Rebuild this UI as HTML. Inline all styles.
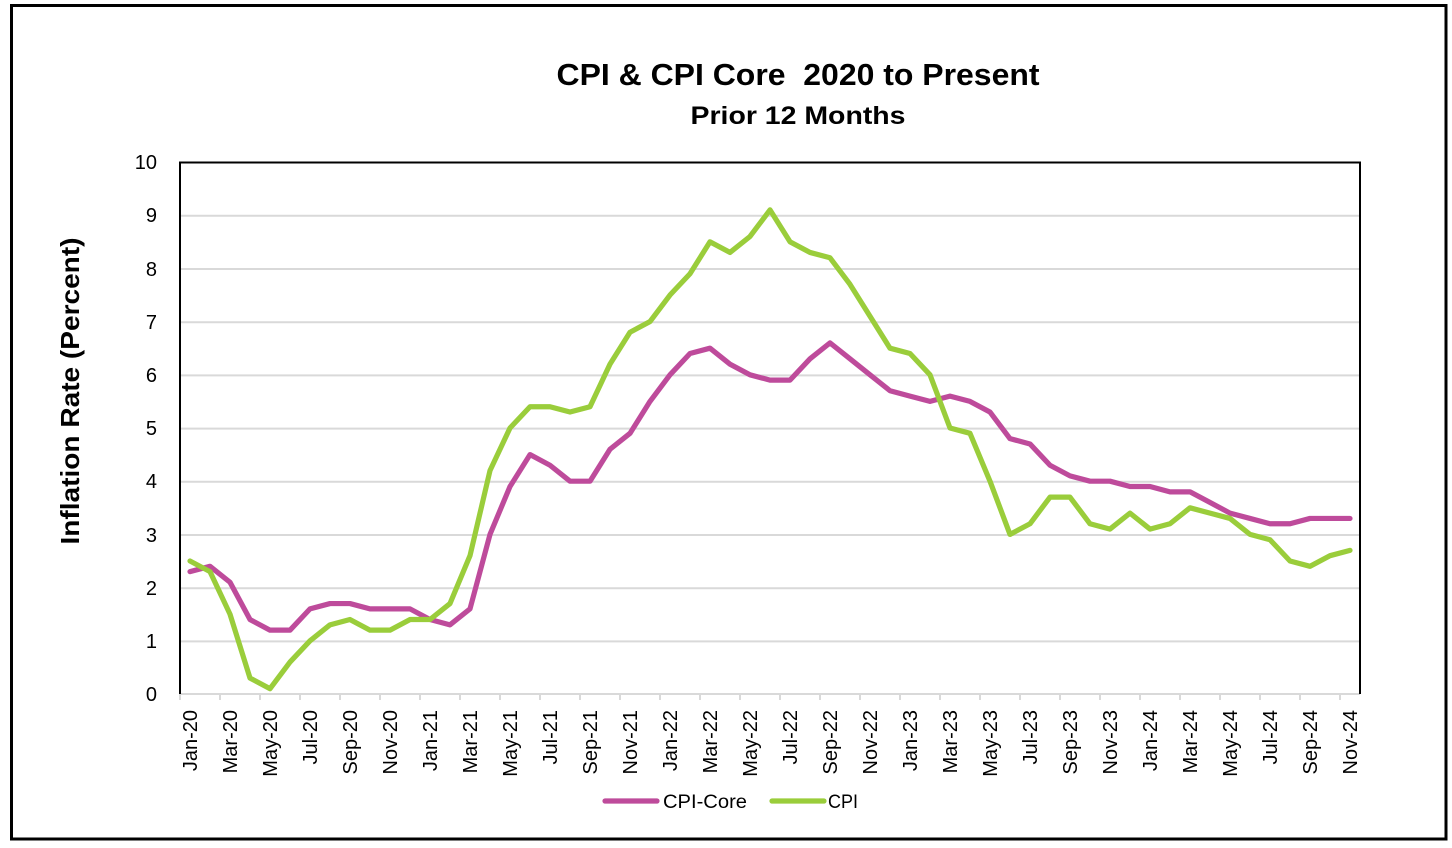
<!DOCTYPE html>
<html>
<head>
<meta charset="utf-8">
<style>
html,body{margin:0;padding:0;background:#fff;}
svg{display:block;}
text{font-family:"Liberation Sans",Arial,sans-serif;fill:#000;}
</style>
</head>
<body>
<svg width="1452" height="848" viewBox="0 0 1452 848" xmlns="http://www.w3.org/2000/svg">
<rect x="0" y="0" width="1452" height="848" fill="#fff"/>
<rect x="11.5" y="5.5" width="1434.5" height="833.5" fill="none" stroke="#000" stroke-width="3"/>

<!-- Titles -->
<text x="798" y="85" font-size="31" font-weight="bold" text-anchor="middle" textLength="483" lengthAdjust="spacingAndGlyphs">CPI &amp; CPI Core&#160; 2020 to Present</text>
<text x="798" y="124" font-size="25" font-weight="bold" text-anchor="middle" textLength="215" lengthAdjust="spacingAndGlyphs">Prior 12 Months</text>

<!-- Y axis title -->
<text transform="translate(79,391) rotate(-90)" font-size="26" font-weight="bold" text-anchor="middle" textLength="307" lengthAdjust="spacingAndGlyphs">Inflation Rate (Percent)</text>

<!-- Gridlines -->
<g stroke="#D9D9D9" stroke-width="2">
<line x1="180" y1="215.8" x2="1360" y2="215.8"/>
<line x1="180" y1="269" x2="1360" y2="269"/>
<line x1="180" y1="322.2" x2="1360" y2="322.2"/>
<line x1="180" y1="375.4" x2="1360" y2="375.4"/>
<line x1="180" y1="428.6" x2="1360" y2="428.6"/>
<line x1="180" y1="481.8" x2="1360" y2="481.8"/>
<line x1="180" y1="535" x2="1360" y2="535"/>
<line x1="180" y1="588.2" x2="1360" y2="588.2"/>
<line x1="180" y1="641.4" x2="1360" y2="641.4"/>
<line x1="180" y1="694" x2="1360" y2="694"/>
</g>
<!-- X ticks -->
<g stroke="#D9D9D9" stroke-width="2">
<line x1="180" y1="694" x2="180" y2="700"/><line x1="220" y1="694" x2="220" y2="700"/><line x1="260" y1="694" x2="260" y2="700"/><line x1="300" y1="694" x2="300" y2="700"/><line x1="340" y1="694" x2="340" y2="700"/><line x1="380" y1="694" x2="380" y2="700"/><line x1="420" y1="694" x2="420" y2="700"/><line x1="460" y1="694" x2="460" y2="700"/><line x1="500" y1="694" x2="500" y2="700"/><line x1="540" y1="694" x2="540" y2="700"/><line x1="580" y1="694" x2="580" y2="700"/><line x1="620" y1="694" x2="620" y2="700"/><line x1="660" y1="694" x2="660" y2="700"/><line x1="700" y1="694" x2="700" y2="700"/><line x1="740" y1="694" x2="740" y2="700"/><line x1="780" y1="694" x2="780" y2="700"/><line x1="820" y1="694" x2="820" y2="700"/><line x1="860" y1="694" x2="860" y2="700"/><line x1="900" y1="694" x2="900" y2="700"/><line x1="940" y1="694" x2="940" y2="700"/><line x1="980" y1="694" x2="980" y2="700"/><line x1="1020" y1="694" x2="1020" y2="700"/><line x1="1060" y1="694" x2="1060" y2="700"/><line x1="1100" y1="694" x2="1100" y2="700"/><line x1="1140" y1="694" x2="1140" y2="700"/><line x1="1180" y1="694" x2="1180" y2="700"/><line x1="1220" y1="694" x2="1220" y2="700"/><line x1="1260" y1="694" x2="1260" y2="700"/><line x1="1300" y1="694" x2="1300" y2="700"/><line x1="1340" y1="694" x2="1340" y2="700"/>
</g>

<!-- Plot border (left, top, right) -->
<path d="M180,694 L180,162.5 L1360,162.5 L1360,694" fill="none" stroke="#000" stroke-width="2"/>

<!-- Y tick labels -->
<g font-size="20" text-anchor="end">
<text x="157" y="169">10</text>
<text x="157" y="222">9</text>
<text x="157" y="276">8</text>
<text x="157" y="329">7</text>
<text x="157" y="382">6</text>
<text x="157" y="435">5</text>
<text x="157" y="488">4</text>
<text x="157" y="542">3</text>
<text x="157" y="595">2</text>
<text x="157" y="648">1</text>
<text x="157" y="701">0</text>
</g>

<!-- X tick labels -->
<g font-size="20" text-anchor="end">
<text transform="translate(197,710) rotate(-90)">Jan-20</text>
<text transform="translate(237,710) rotate(-90)">Mar-20</text>
<text transform="translate(277,710) rotate(-90)">May-20</text>
<text transform="translate(317,710) rotate(-90)">Jul-20</text>
<text transform="translate(357,710) rotate(-90)">Sep-20</text>
<text transform="translate(397,710) rotate(-90)">Nov-20</text>
<text transform="translate(437,710) rotate(-90)">Jan-21</text>
<text transform="translate(477,710) rotate(-90)">Mar-21</text>
<text transform="translate(517,710) rotate(-90)">May-21</text>
<text transform="translate(557,710) rotate(-90)">Jul-21</text>
<text transform="translate(597,710) rotate(-90)">Sep-21</text>
<text transform="translate(637,710) rotate(-90)">Nov-21</text>
<text transform="translate(677,710) rotate(-90)">Jan-22</text>
<text transform="translate(717,710) rotate(-90)">Mar-22</text>
<text transform="translate(757,710) rotate(-90)">May-22</text>
<text transform="translate(797,710) rotate(-90)">Jul-22</text>
<text transform="translate(837,710) rotate(-90)">Sep-22</text>
<text transform="translate(877,710) rotate(-90)">Nov-22</text>
<text transform="translate(917,710) rotate(-90)">Jan-23</text>
<text transform="translate(957,710) rotate(-90)">Mar-23</text>
<text transform="translate(997,710) rotate(-90)">May-23</text>
<text transform="translate(1037,710) rotate(-90)">Jul-23</text>
<text transform="translate(1077,710) rotate(-90)">Sep-23</text>
<text transform="translate(1117,710) rotate(-90)">Nov-23</text>
<text transform="translate(1157,710) rotate(-90)">Jan-24</text>
<text transform="translate(1197,710) rotate(-90)">Mar-24</text>
<text transform="translate(1237,710) rotate(-90)">May-24</text>
<text transform="translate(1277,710) rotate(-90)">Jul-24</text>
<text transform="translate(1317,710) rotate(-90)">Sep-24</text>
<text transform="translate(1357,710) rotate(-90)">Nov-24</text>
</g>

<!-- Series -->
<g fill="none" stroke-linejoin="round" stroke-linecap="round" stroke-width="5.2">
<polyline stroke="#BE4B9B" points="190,571.64 210,566.32 230,582.28 250,619.52 270,630.16 290,630.16 310,608.88 330,603.56 350,603.56 370,608.88 390,608.88 410,608.88 430,619.52 450,624.84 470,608.88 490,534.4 510,486.52 530,454.6 550,465.24 570,481.2 590,481.2 610,449.28 630,433.32 650,401.4 670,374.8 690,353.52 710,348.2 730,364.16 750,374.8 770,380.12 790,380.12 810,358.84 830,342.88 850,358.84 870,374.8 890,390.76 910,396.08 930,401.4 950,396.08 970,401.4 990,412.04 1010,438.64 1030,443.96 1050,465.24 1070,475.88 1090,481.2 1110,481.2 1130,486.52 1150,486.52 1170,491.84 1190,491.84 1210,502.48 1230,513.12 1250,518.44 1270,523.76 1290,523.76 1310,518.44 1330,518.44 1350,518.44"/>
<polyline stroke="#9ACD3B" points="190,561 210,571.64 230,614.2 250,678.04 270,688.68 290,662.08 310,640.8 330,624.84 350,619.52 370,630.16 390,630.16 410,619.52 430,619.52 450,603.56 470,555.68 490,470.56 510,428 530,406.72 550,406.72 570,412.04 590,406.72 610,364.16 630,332.24 650,321.6 670,295 690,273.72 710,241.8 730,252.44 750,236.48 770,209.88 790,241.8 810,252.44 830,257.76 850,284.36 870,316.28 890,348.2 910,353.52 930,374.8 950,428 970,433.32 990,481.2 1010,534.4 1030,523.76 1050,497.16 1070,497.16 1090,523.76 1110,529.08 1130,513.12 1150,529.08 1170,523.76 1190,507.8 1210,513.12 1230,518.44 1250,534.4 1270,539.72 1290,561 1310,566.32 1330,555.68 1350,550.36"/>
</g>

<!-- Legend -->
<line x1="605" y1="801" x2="657" y2="801" stroke="#BE4B9B" stroke-width="5.2" stroke-linecap="round"/>
<text x="663" y="808" font-size="19" textLength="84" lengthAdjust="spacingAndGlyphs">CPI-Core</text>
<line x1="772" y1="801" x2="824" y2="801" stroke="#9ACD3B" stroke-width="5.2" stroke-linecap="round"/>
<text x="828" y="808" font-size="19" textLength="30" lengthAdjust="spacingAndGlyphs">CPI</text>
</svg>
</body>
</html>
